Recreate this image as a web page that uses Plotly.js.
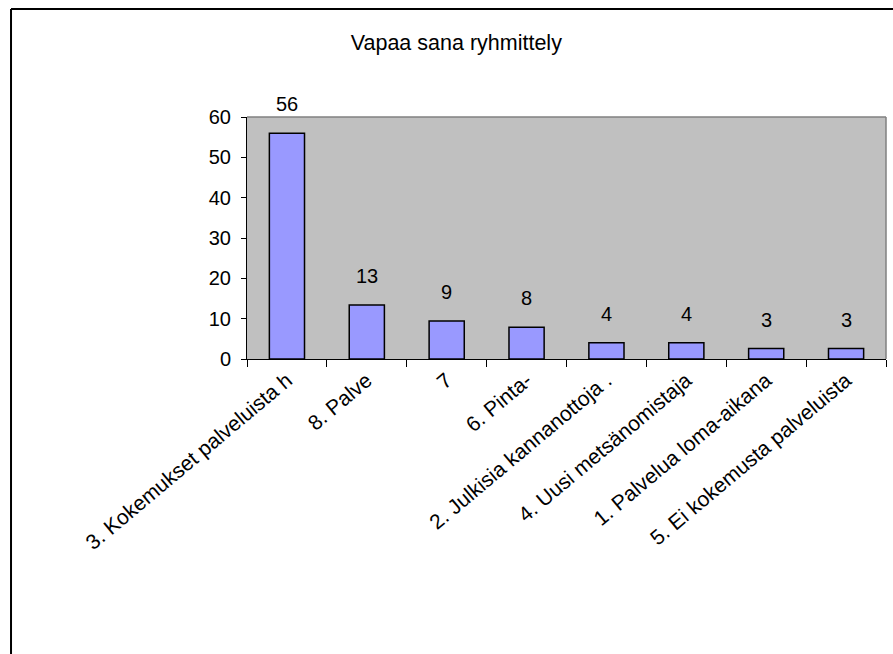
<!DOCTYPE html>
<html>
<head>
<meta charset="utf-8">
<script src="https://cdn.plot.ly/plotly-3.0.1.min.js"></script>
<style>
html,body{margin:0;padding:0;background:#fff;}
#chart{width:893px;height:654px;}
</style>
</head>
<body>
<div id="chart"></div>
<script>
// Data
const categories = [
  "3. Kokemukset palveluista h",
  "8. Palve",
  "7",
  "6. Pinta-",
  "2. Julkisia kannanottoja .",
  "4. Uusi metsänomistaja",
  "1. Palvelua loma-aikana",
  "5. Ei kokemusta palveluista"
];
const values = [56, 13.4, 9.4, 7.9, 4.0, 4.0, 2.6, 2.6];
const titleText = "Vapaa sana ryhmittely";
const yTicks = [0, 10, 20, 30, 40, 50, 60];

const FONT = "Liberation Sans, Arial, sans-serif";

const trace = {
  type: "bar",
  x: categories,
  y: values,
  marker: {color: "#9999FF", line: {color: "#000000", width: 1.5}},
  hoverinfo: "x+y"
};

// data labels, positioned by category index on the category axis
const annotations = values.map((v, i) => ({
  x: i, y: v, xref: "x", yref: "y",
  text: String(Math.round(v)),
  showarrow: false, yanchor: "bottom", yshift: 16,
  font: {family: FONT, size: 20, color: "#000"}
}));

const layout = {
  width: 893, height: 654,
  margin: {l: 247, r: 7, t: 117, b: 295, autoexpand: false},
  paper_bgcolor: "#FFFFFF",
  plot_bgcolor: "#C0C0C0",
  showlegend: false,
  bargap: 0.56,
  title: {text: titleText, x: 0.511, xanchor: "center", y: 0.935, yanchor: "middle",
          font: {family: FONT, size: 21.5, color: "#000"}},
  xaxis: {
    type: "category",
    tickson: "boundaries",
    ticks: "outside", ticklen: 7, tickcolor: "#000", tickwidth: 1,
    showline: true, linecolor: "#000", linewidth: 1,
    showgrid: false, zeroline: false,
    tickangle: -40,
    automargin: false,
    tickfont: {family: FONT, size: 21, color: "#000"}
  },
  yaxis: {
    range: [0, 60],
    tickvals: yTicks,
    ticktext: yTicks.map(String),
    ticks: "outside", ticklen: 5, tickcolor: "#000", tickwidth: 1,
    ticklabelstandoff: 6,
    showline: true, linecolor: "#000", linewidth: 1,
    showgrid: false, zeroline: false,
    automargin: false,
    tickfont: {family: FONT, size: 20, color: "#000"}
  },
  annotations: annotations,
  shapes: [
    {type: "line", xref: "paper", yref: "paper", x0: 0, x1: 1, y0: 1, y1: 1,
     line: {color: "#808080", width: 1.5}, layer: "above"},
    {type: "line", xref: "paper", yref: "paper", x0: 1, x1: 1, y0: 0, y1: 1,
     line: {color: "#808080", width: 1.5}, layer: "above"},
    {type: "line", xref: "paper", yref: "paper", x0: -0.3693, x1: -0.3693, y0: 1.4463, y1: -1.3,
     line: {color: "#000", width: 2}},
    {type: "line", xref: "paper", yref: "paper", x0: -0.3693, x1: 1.1, y0: 1.4463, y1: 1.4463,
     line: {color: "#000", width: 2}}
  ]
};

Plotly.newPlot("chart", [trace], layout, {displayModeBar: false, staticPlot: true});
</script>
</body>
</html>
